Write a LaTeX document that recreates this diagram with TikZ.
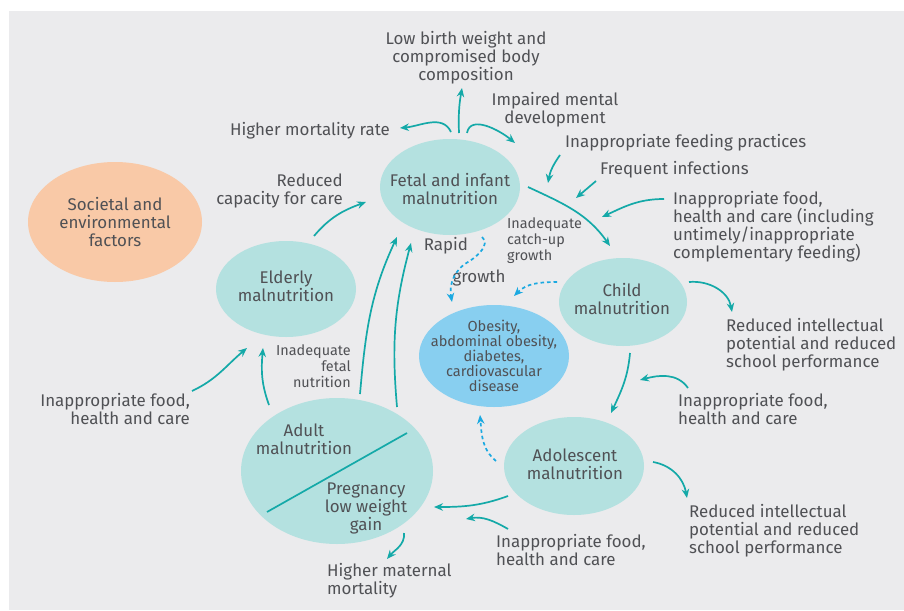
\documentclass[tikz,border=0pt]{standalone}
\usepackage{fontspec}
\setmainfont{Fira Sans}
\usepackage{xcolor}
\usepackage{tikz}
\usetikzlibrary{calc,arrows.meta,shapes.geometric}
\definecolor{panel}{HTML}{EBEBED}
\definecolor{ink}{HTML}{505155}
\definecolor{flowc}{HTML}{14A9A8}
\definecolor{mint}{HTML}{B4E1E0}
\definecolor{sky}{HTML}{88CFF0}
\definecolor{peach}{HTML}{F9C9A7}
\definecolor{dashc}{HTML}{1BA9E1}
\tikzset{
  blob/.style={ellipse, fill=mint, inner sep=0pt, outer sep=0pt},
  lab/.style={text=ink, font=\fontsize{16.9}{18}\selectfont, inner sep=0pt},
  note/.style={text=ink, font=\fontsize{14.4}{16}\selectfont, inner sep=0pt},
  flow/.style={draw=flowc, line width=1.7pt, -{Stealth[length=9pt,width=7.5pt]}},
  link/.style={draw=dashc, line width=1.7pt, dash pattern=on 3.5pt off 3pt, -{Stealth[length=9pt,width=7.5pt]}},
}

\begin{document}
\begin{tikzpicture}[x=1pt,y=1pt]
\useasboundingbox (0,0) rectangle (904,-610);
\fill[white] (0,0) rectangle (904,-610);
\fill[panel] (9,-11) rectangle (904,-610);

\node[blob, fill=peach, minimum width=174pt, minimum height=120pt] (soc) at (115,-222) {};
\node[blob, minimum width=140pt, minimum height=96pt] (fet) at (450,-187) {};
\node[blob, minimum width=140pt, minimum height=96pt] (eld) at (286,-289) {};
\node[blob, minimum width=128pt, minimum height=88pt] (chi) at (623,-302) {};
\node[blob, fill=sky, minimum width=150pt, minimum height=102pt] (obe) at (494,-356) {};
\node[blob, minimum width=140pt, minimum height=98pt] (ado) at (574,-466) {};
\node[blob, minimum width=192pt, minimum height=146pt] (adu) at (337,-471) {};
\draw[draw=flowc, line width=1.7pt] ($(adu)+(-70,-41)$) -- ($(adu)+(70,38)$);

\node[lab, align=center] (soct) at (soc) {Societal and\\environmental\\factors};
\node[lab, align=center] (fett) at (450,-189) {Fetal and infant\\malnutrition};
\node[lab, align=center] (eldt) at (286,-286) {Elderly\\malnutrition};
\node[lab, align=center] (chit) at (622,-299) {Child\\malnutrition};
\node[text=ink, font=\fontsize{14.6}{15}\selectfont, inner sep=0pt, align=center] (obet) at (494,-356) {Obesity,\\abdominal obesity,\\diabetes,\\cardiovascular\\disease};
\node[lab, align=center] (adot) at (575,-464) {Adolescent\\malnutrition};
\node[lab, align=center] (adut) at (304,-439) {Adult\\malnutrition};
\node[lab, align=center] (pret) at (366,-508) {Pregnancy\\low weight\\gain};

\node[lab, align=center] (lbw) at (466,-58) {Low birth weight and\\compromised body\\composition};
\node[lab, anchor=east] (hmr) at (390,-131) {Higher mortality rate};
\node[lab, align=center] (imd) at (555,-110) {Impaired mental\\development};
\node[lab, anchor=west] (ifp) at (565,-143) {Inappropriate feeding practices};
\node[lab, anchor=west] (fin) at (600,-170) {Frequent infections};
\node[lab, anchor=west, align=left] (ifc) at (673,-227) {Inappropriate food,\\health and care (including\\untimely/inappropriate\\complementary feeding)};
\node[lab, anchor=east, align=right] (rcc) at (343,-191) {Reduced\\capacity for care};
\node[lab] (rap) at (446,-246) {Rapid};
\node[lab] (gro) at (479,-278) {growth};
\node[note, anchor=west, align=left] (icg) at (507,-241) {Inadequate\\catch-up\\growth};
\node[lab, anchor=west, align=left] (rip) at (726,-345) {Reduced intellectual\\potential and reduced\\school performance};
\node[note, anchor=east, align=right] (ifn) at (351,-366) {Inadequate\\fetal\\nutrition};
\node[lab, anchor=east, align=right] (ifl) at (190,-409) {Inappropriate food,\\health and care};
\node[lab, anchor=west, align=left] (ifr) at (678,-409) {Inappropriate food,\\health and care};
\node[lab, anchor=west, align=left] (hmm) at (327,-581) {Higher maternal\\mortality};
\node[lab, anchor=west, align=left] (ifb) at (496,-550) {Inappropriate food,\\health and care};
\node[lab, anchor=west, align=left] (ris) at (689,-531) {Reduced intellectual\\potential and reduced\\school performance};

\coordinate (lbwE) at (462,-88);
\coordinate (hmrE) at (400,-128);
\coordinate (imdE) at (515,-143);
\coordinate (ifpS) at (560,-155);
\coordinate (ifpE) at (548,-183);
\coordinate (finS) at (596,-181);
\coordinate (finE) at (576,-198);
\coordinate (ifcS) at (664,-199);
\coordinate (ifcE) at (602,-217);
\coordinate (iflS) at (192,-391);
\coordinate (hmmE) at (387,-559);
\coordinate (ifbS) at (508,-529);
\coordinate (ifbE) at (466,-519);
\coordinate (risE) at (687,-498);
\coordinate (ripE) at (732,-312);
\coordinate (ifrS) at (688,-388);
\coordinate (ifrE) at (640,-380);
\coordinate (rg) at (468,-262);

\draw[flow] ($(fet)+(9,54)$) to[bend left=6] (lbwE);
\draw[flow] ($(fet)+(1,55)$) to[out=115,in=5] (hmrE);
\draw[flow] ($(fet)+(17,54)$) to[out=80,in=140] (imdE);
\draw[flow] (ifpS) to[out=235,in=80] (ifpE);
\draw[flow] (finS) -- (finE);
\draw[flow] (ifcS) to[out=180,in=25] (ifcE);
\draw[flow] ($(fet)+(78,0)$) to[out=-25,in=125] ($(chi)+(-13,56)$);
\draw[flow] ($(eld)+(28,53)$) to[out=50,in=200] ($(fet)+(-84,-15)$);
\draw[flow] ($(adu)+(23,77)$) to[out=85,in=245] ($(fet)+(-53,-50)$);
\draw[flow] ($(adu)+(60,64)$) to[out=95,in=255] ($(fet)+(-39,-56)$);
\draw[flow] ($(adu)+(-68,66)$) to[out=110,in=265] ($(eld)+(-23,-59)$);
\draw[flow] (iflS) to[out=25,in=220] ($(eld)+(-39,-59)$);
\draw[flow] ($(adu)+(67,-62)$) to[out=-85,in=50] (hmmE);
\draw[flow] ($(ado)+(-66,-30)$) to[out=200,in=0] ($(adu)+(97,-36)$);
\draw[flow] (ifbS) to[out=150,in=10] (ifbE);
\draw[flow] ($(ado)+(79,4)$) to[out=-10,in=100] (risE);
\draw[flow] ($(chi)+(66,20)$) to[out=5,in=100] (ripE);
\draw[flow] ($(chi)+(7,-51)$) to[out=-95,in=65] ($(ado)+(37,53)$);
\draw[flow] (ifrS) to[out=125,in=15] (ifrE);

\draw[link] ($(fet)+(32,-50)$) to[out=-40,in=30] (rg) to[out=210,in=100] ($(obe)+(-42,54)$);
\draw[link] ($(chi)+(-66,20)$) to[out=180,in=45] ($(obe)+(20,60)$);
\draw[link] ($(ado)+(-78,5)$) to[out=140,in=-85] ($(obe)+(-14,-59)$);
\end{tikzpicture}
\end{document}
